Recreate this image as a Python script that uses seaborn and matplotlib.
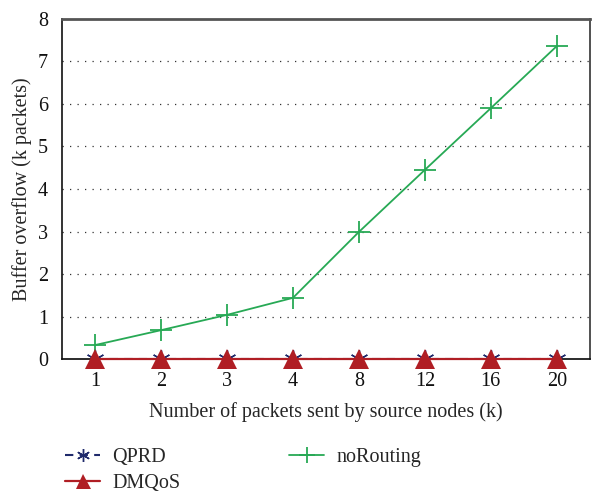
import matplotlib
matplotlib.use("Agg")
import matplotlib.pyplot as plt
import seaborn as sns
import pandas as pd
import numpy as np

packets_sent = ["1", "2", "3", "4", "8", "12", "16", "20"]
qprd = [0, 0, 0, 0, 0, 0, 0, 0]
dmqos = [0, 0, 0, 0, 0, 0, 0, 0]
no_routing = [0.33, 0.68, 1.04, 1.44, 2.99, 4.45, 5.90, 7.36]

sns.set_theme(style="white")
plt.rcParams["font.family"] = ["Liberation Serif", "DejaVu Serif"]
fs = 14.5

pos = np.arange(len(packets_sent))
df = pd.DataFrame({"pos": pos, "QPRD": qprd, "DMQoS": dmqos, "noRouting": no_routing})

fig = plt.figure(figsize=(5.93, 4.96), dpi=100)
ax = fig.add_axes([0.1046, 0.276, 0.890, 0.686])

navy = "#1f2a6b"
red = "#b01e24"
green = "#27a955"

sns.lineplot(data=df, x="pos", y="QPRD", ax=ax, color=navy, linestyle=(0, (4, 3)),
             marker=(6, 2, 0), markersize=13, markeredgewidth=1.0,
             markeredgecolor=navy, label="QPRD", zorder=3)
sns.lineplot(data=df, x="pos", y="noRouting", ax=ax, color=green, linewidth=1.3,
             marker="+", markersize=16, markeredgewidth=1.3,
             markeredgecolor=green, label="noRouting", zorder=4)
sns.lineplot(data=df, x="pos", y="DMQoS", ax=ax, color=red, linewidth=1.6,
             marker="^", markersize=15, markeredgewidth=0, markeredgecolor=red,
             label="DMQoS", zorder=5, clip_on=False)

ax.set_xlim(-0.5, len(packets_sent) - 0.5)
ax.set_ylim(0, 8)
ax.set_xticks(pos)
ax.set_xticklabels(packets_sent)
ax.set_yticks(range(0, 9))
ax.tick_params(axis="both", length=0, labelsize=fs, colors="#111111")
ax.tick_params(axis="x", pad=9)
ax.tick_params(axis="y", pad=10)
for yv in range(1, 8):
    ax.axhline(yv, color="#333333", linestyle=(0, (1, 5)), linewidth=0.9, zorder=1)

ax.set_xlabel("Number of packets sent by source nodes (k)", fontsize=fs, labelpad=8)
ax.set_ylabel("Buffer overflow (k packets)", fontsize=fs, labelpad=4)

ax.spines["left"].set_color("#111111")
ax.spines["left"].set_linewidth(1.2)
ax.spines["bottom"].set_color("#111111")
ax.spines["top"].set_color("#555555")
ax.spines["top"].set_linewidth(2.0)
ax.spines["right"].set_color("#333333")
ax.spines["right"].set_linewidth(1.2)

ax.get_legend().remove()
handles, labels = ax.get_legend_handles_labels()
order = [labels.index("QPRD"), labels.index("DMQoS"), labels.index("noRouting")]
fig.legend([handles[i] for i in order], [labels[i] for i in order],
           loc="upper left", bbox_to_anchor=(0.096, 0.113), ncol=2, frameon=False,
           fontsize=fs, handlelength=1.75, columnspacing=5.4, labelspacing=0.35,
           handletextpad=0.6, borderaxespad=0, markerscale=0.72)

fig.savefig("out.png", dpi=100)
